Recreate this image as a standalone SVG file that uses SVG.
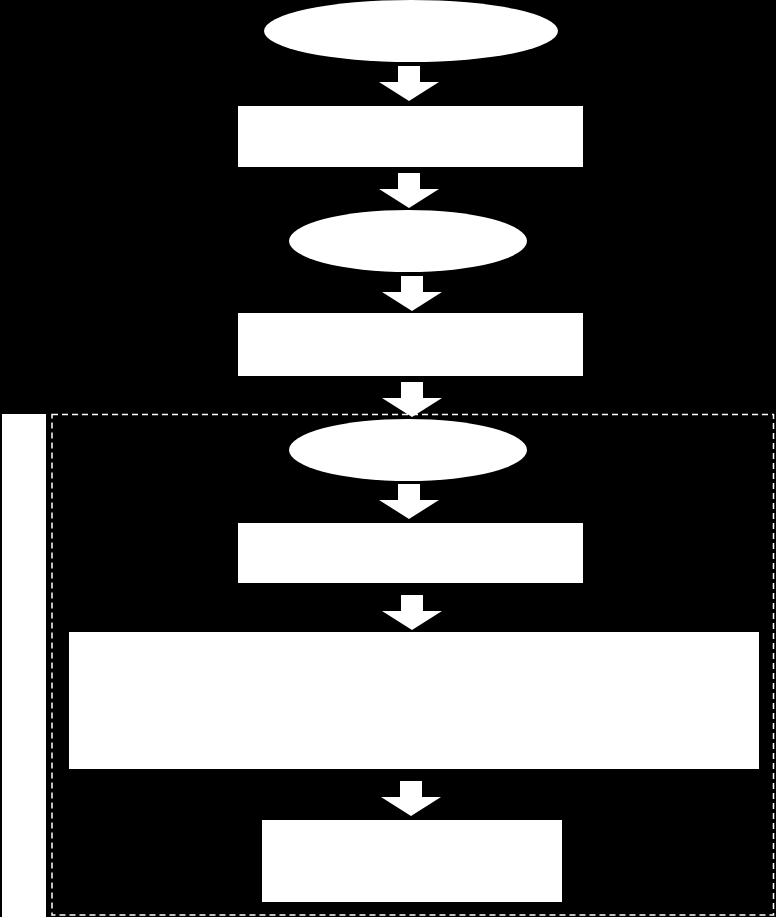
<svg xmlns="http://www.w3.org/2000/svg" width="776" height="917" viewBox="0 0 776 917">
<style>.n{fill:#fff}.a{fill:#fff}</style>
<defs><path id="arr" d="M-11,0 H11 V16 H30 L0,35 L-30,16 H-11 Z"/></defs>
<rect width="776" height="917" fill="#000"/>
<g id="group-box"><rect x="52" y="414.5" width="721.5" height="500.5" fill="none" stroke="#fff" stroke-width="1.5" stroke-dasharray="6,4"/></g>
<g id="side-bar"><rect class="n" x="2" y="414" width="44" height="503"/></g>
<g id="n1"><ellipse class="n" cx="411" cy="31" rx="147" ry="31"/></g>
<g id="n2"><rect class="n" x="238" y="106" width="345" height="61"/></g>
<g id="n3"><ellipse class="n" cx="408" cy="241" rx="119" ry="31"/></g>
<g id="n4"><rect class="n" x="238" y="313" width="345" height="63"/></g>
<g id="n5"><ellipse class="n" cx="408" cy="450" rx="119" ry="31"/></g>
<g id="n6"><rect class="n" x="238" y="523" width="345" height="60"/></g>
<g id="n7"><rect class="n" x="69" y="632" width="690" height="137"/></g>
<g id="n8"><rect class="n" x="262" y="820" width="300" height="82"/></g>
<g id="connectors">
<use href="#arr" class="a" x="409" y="66"/>
<use href="#arr" class="a" x="409" y="173"/>
<use href="#arr" class="a" x="412" y="276"/>
<use href="#arr" class="a" x="412" y="382"/>
<use href="#arr" class="a" x="409" y="484"/>
<use href="#arr" class="a" x="412" y="595"/>
<use href="#arr" class="a" x="411" y="781"/>
</g>
</svg>
